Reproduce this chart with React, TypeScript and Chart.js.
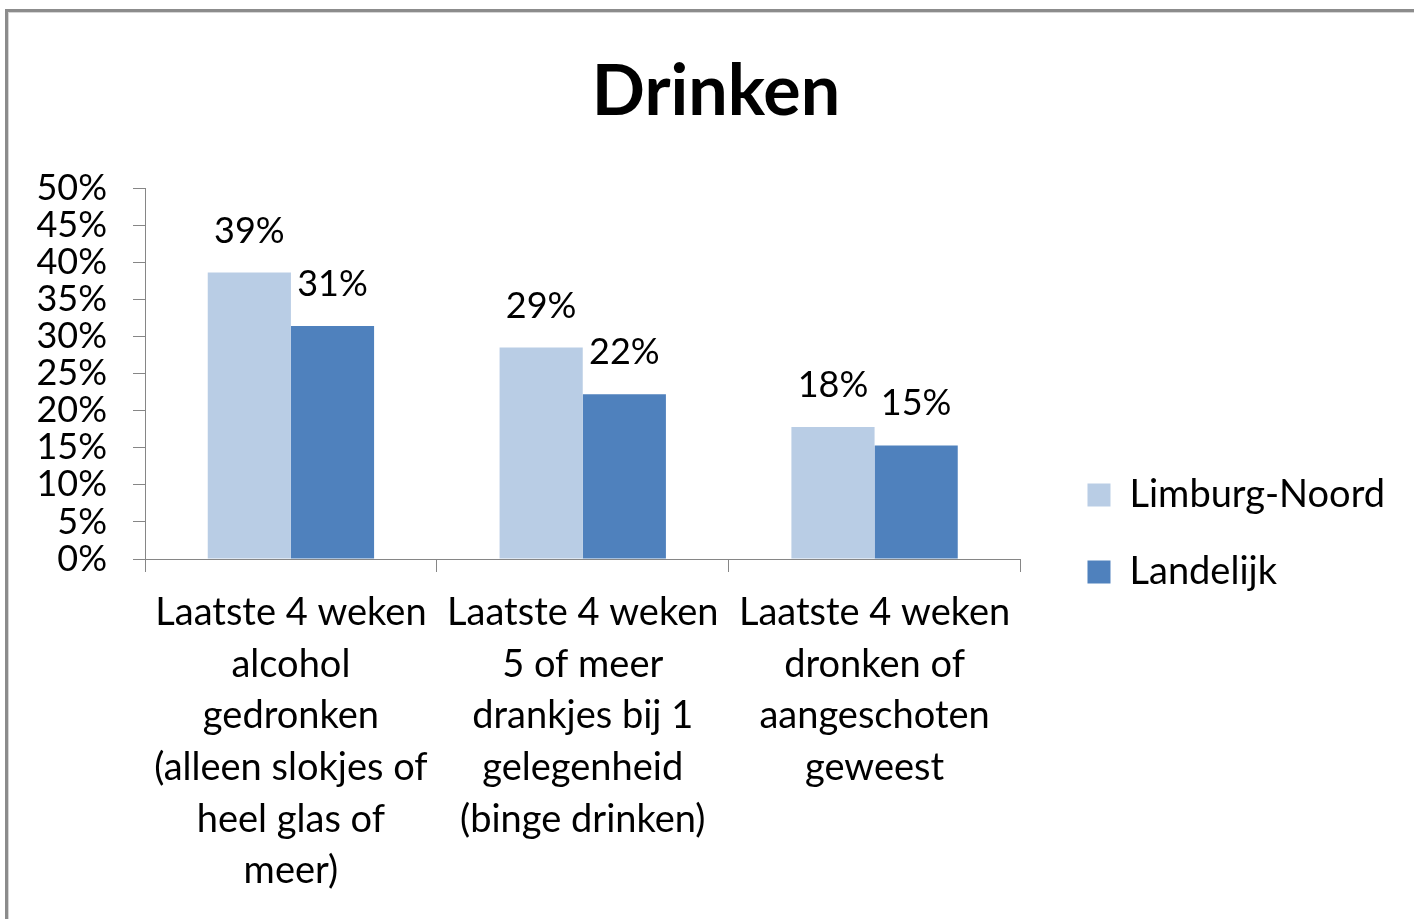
import React, { useEffect, useRef } from "react";
import { Chart, registerables } from "chart.js";

Chart.register(...registerables);

const chartTitle = "Drinken";
const categories: string[][] = [
  ["Laatste 4 weken", "alcohol", "gedronken", "(alleen slokjes of", "heel glas of", "meer)"],
  ["Laatste 4 weken", "5 of meer", "drankjes bij 1", "gelegenheid", "(binge drinken)"],
  ["Laatste 4 weken", "dronken of", "aangeschoten", "geweest"],
];
const seriesNames = ["Limburg-Noord", "Landelijk"];
const limburgNoord = [38.6, 28.5, 17.8];
const landelijk = [31.4, 22.2, 15.3];
const seriesColors = ["#B9CDE5", "#4F81BD"];
const yMin = 0;
const yMax = 50;
const yStep = 5;

const FONT = 'Lato, "Open Sans", sans-serif';
const NUM_FS = 36;
const TXT_FS = 38;
const AXIS = "#868686";

const dataLabels = {
  id: "dataLabels",
  afterDatasetsDraw(chart: any) {
    const ctx = chart.ctx;
    ctx.save();
    ctx.font = `${NUM_FS}px ${FONT}`;
    ctx.fillStyle = "#000";
    ctx.textAlign = "center";
    ctx.textBaseline = "alphabetic";
    chart.data.datasets.forEach((ds: any, di: number) => {
      const meta = chart.getDatasetMeta(di);
      meta.data.forEach((bar: any, i: number) => {
        const v = ds.data[i];
        ctx.fillText(Math.round(v) + "%", bar.x, bar.y - 30);
      });
    });
    ctx.restore();
  },
};

export default function App() {
  const ref = useRef<HTMLCanvasElement>(null);
  useEffect(() => {
    document.documentElement.style.overflow = "hidden";
    document.body.style.margin = "0";
    document.body.style.overflow = "hidden";
    const canvas = ref.current!;
    const mctx = document.createElement("canvas").getContext("2d")!;
    mctx.font = `${TXT_FS}px ${FONT}`;
    const tw = Math.max(...seriesNames.map((s) => mctx.measureText(s).width));
    const legendPad = 77 - TXT_FS;
    const boxW = 23;
    const legendWidth = legendPad + boxW + TXT_FS / 2 + tw + 10;
    const legendLeft = 1079 - legendPad; // canvas coords of legend box
    const W = Math.round(legendLeft + legendWidth);
    const padLeft = Math.max(0, 1416 - W);
    const H = 1043;
    canvas.width = W;
    canvas.height = H;
    canvas.style.width = W + "px";
    canvas.style.height = H + "px";

    const chart = new Chart(canvas, {
      type: "bar",
      data: {
        labels: categories,
        datasets: [
          {
            label: seriesNames[0],
            data: limburgNoord,
            backgroundColor: seriesColors[0],
            categoryPercentage: 0.57,
            barPercentage: 1,
          },
          {
            label: seriesNames[1],
            data: landelijk,
            backgroundColor: seriesColors[1],
            categoryPercentage: 0.57,
            barPercentage: 1,
          },
        ],
      },
      options: {
        responsive: false,
        animation: false,
        layout: { padding: { left: padLeft, right: 0, top: 0, bottom: 0 } },
        plugins: {
          tooltip: { enabled: false },
          title: {
            display: true,
            text: chartTitle,
            color: "#000",
            font: { family: FONT, size: 70, weight: "bold", lineHeight: 1.2 },
            padding: { top: 38, bottom: 54 },
          },
          legend: {
            display: true,
            position: "right",
            align: "center",
            maxWidth: 600,
            labels: {
              boxWidth: boxW,
              boxHeight: boxW,
              padding: legendPad,
              color: "#000",
              font: { family: FONT, size: TXT_FS },
            },
          },
        },
        scales: {
          x: {
            offset: true,
            grid: {
              offset: true,
              drawOnChartArea: false,
              drawTicks: true,
              tickLength: 13,
              color: AXIS,
            },
            border: { color: AXIS, width: 1 },
            ticks: {
              autoSkip: false,
              maxRotation: 0,
              minRotation: 0,
              padding: 15,
              color: "#000",
              font: { family: FONT, size: TXT_FS, lineHeight: 1.36 },
            },
            afterFit: (s: any) => {
              s.height = 496;
            },
          },
          y: {
            min: yMin,
            max: yMax,
            grid: {
              drawOnChartArea: false,
              drawTicks: true,
              tickLength: 12,
              color: AXIS,
            },
            border: { color: AXIS, width: 1 },
            ticks: {
              stepSize: yStep,
              autoSkip: false,
              padding: 26,
              color: "#000",
              font: { family: FONT, size: NUM_FS, lineHeight: 1 },
              callback: (v: any) => v + "%",
            },
            afterFit: (s: any) => {
              s.width = 137 - padLeft;
            },
          },
          y2: {
            position: "right",
            display: true,
            grid: { display: false, drawOnChartArea: false },
            border: { display: false },
            ticks: { display: false },
            afterFit: (s: any) => {
              s.width = legendLeft - 1012;
            },
          },
        },
      },
      plugins: [dataLabels],
    } as any);
    return () => chart.destroy();
  }, []);

  return (
    <div
      style={{
        position: "absolute",
        left: 5,
        top: 9,
        width: 1500,
        height: 1100,
        borderLeft: "3px solid #8c8c8c",
        borderTop: "3px solid #8c8c8c",
        background: "#fff",
        boxShadow: "inset 1px 1px 0 #d6d6d6",
      }}
    >
      <canvas ref={ref} style={{ display: "block" }} />
    </div>
  );
}
